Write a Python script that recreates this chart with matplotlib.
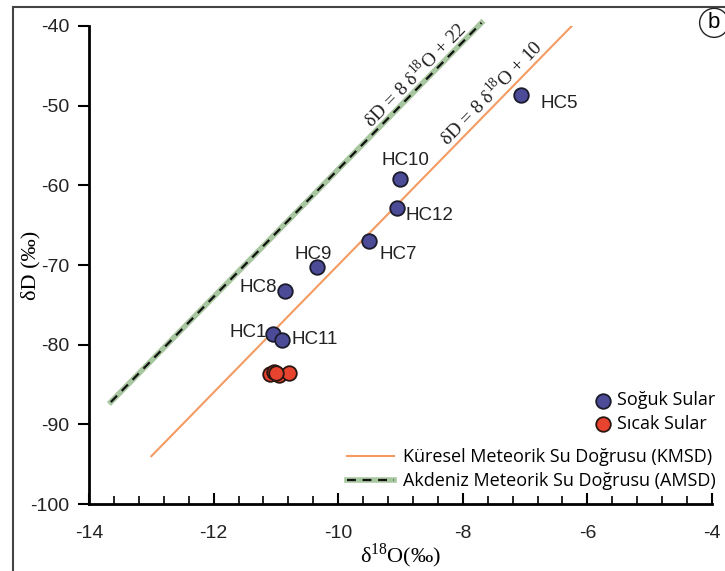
"""d18O - dD diagram of cold and thermal waters with global (KMSD) and
Mediterranean (AMSD) meteoric water lines"""
import numpy as np
import matplotlib.pyplot as plt
from matplotlib.patches import Rectangle
from matplotlib.ticker import MultipleLocator

plt.rcParams['mathtext.fontset'] = 'custom'
plt.rcParams['mathtext.rm'] = 'Liberation Serif'
plt.rcParams['axes.unicode_minus'] = False

# cold waters (Soğuk Sular)
cold_names = ['HC5', 'HC10', 'HC12', 'HC7', 'HC9', 'HC8', 'HC1', 'HC11']
cold_o18 = [-7.07, -9.00, -9.06, -9.51, -10.34, -10.85, -11.05, -10.90]
cold_dD = [-48.7, -59.2, -62.8, -67.0, -70.2, -73.3, -78.6, -79.4]

# thermal waters (Sıcak Sular)
hot_o18 = [-11.10, -11.03, -10.95, -10.79, -11.0]
hot_dD = [-83.7, -83.4, -83.8, -83.5, -83.6]

# meteoric water lines: slope, intercept, x range
kmsd = (8, 10, [-13.0, -6.25])
amsd = (8, 22, [-13.65, -7.7])

# label offsets (points) for each sample name
offsets = {'HC5': (14, -6), 'HC10': (-14, 13), 'HC12': (6, -6), 'HC7': (8, -10),
           'HC9': (-16, 9), 'HC8': (-33, 3), 'HC1': (-31, 1), 'HC11': (7, 0)}

fig = plt.figure(figsize=(7.25, 5.71), dpi=100)
ax = fig.add_axes([0.1228, 0.1173, 0.8592, 0.8372])

# lines
xk = np.array(kmsd[2])
l_o, = ax.plot(xk, kmsd[0] * xk + kmsd[1], color='#f39b62', lw=1.5, zorder=2)
xa = np.array(amsd[2])
ya = amsd[0] * xa + amsd[1]
l_g, = ax.plot(xa, ya, color='#a8c7a0', lw=4, zorder=2, clip_on=False)
l_k, = ax.plot(xa, ya, color='#111111', lw=1.6, ls=(0, (4, 3)), zorder=3, clip_on=False)

pc = ax.scatter(cold_o18, cold_dD, s=110, c='#4b4b98', edgecolors='#1b1b2b',
                linewidths=1.3, zorder=5)
ph = ax.scatter(hot_o18, hot_dD, s=110, c='#e8432f', edgecolors='#2a1510',
                linewidths=1.3, zorder=5)

for n, x, y in zip(cold_names, cold_o18, cold_dD):
    ax.annotate(n, (x, y), xytext=offsets[n], textcoords='offset points',
                fontsize=13.5, family='Liberation Sans', color='#222222', va='center')

# equations along lines
ang = np.degrees(np.arctan(8))
ax.text(-8.64, 8 * -8.64 + 22, r'δD = 8 δ$^{18}$O + 22', rotation=ang,
        transform_rotates_text=True, rotation_mode='anchor', ha='center', va='bottom',
        family='Liberation Serif', fontsize=14, color='#222222')
ax.text(-7.42, 8 * -7.42 + 10, r'δD = 8 δ$^{18}$O + 10', rotation=ang,
        transform_rotates_text=True, rotation_mode='anchor', ha='center', va='bottom',
        family='Liberation Serif', fontsize=14, color='#222222')

ax.set_xlim(-14, -4)
ax.set_ylim(-100, -40)
ax.spines['top'].set_visible(False)
ax.spines['right'].set_visible(False)
ax.spines['left'].set_linewidth(2)
ax.spines['bottom'].set_linewidth(2)
ax.xaxis.set_major_locator(MultipleLocator(2))
ax.xaxis.set_minor_locator(MultipleLocator(0.4))
ax.yaxis.set_major_locator(MultipleLocator(10))
ax.tick_params(axis='x', which='major', direction='in', length=8, width=1.5, pad=15)
ax.tick_params(axis='x', which='minor', direction='in', length=6, width=1.2)
ax.tick_params(axis='y', which='major', direction='out', length=8, width=1.5, pad=6)
for t in ax.get_xticklabels() + ax.get_yticklabels():
    t.set_family('Liberation Sans')
    t.set_fontsize(14)
    t.set_color('#222222')

ax.set_xlabel(r'δ$^{18}$O(‰)', family='Liberation Serif', fontsize=16, labelpad=0)
ax.set_ylabel('δD (‰)', family='Liberation Serif', fontsize=16)
ax.yaxis.set_label_coords(-0.078, 0.5)

# legends: points and lines
leg1 = ax.legend([pc, ph], ['Soğuk Sular', 'Sıcak Sular'], loc='lower right',
                 bbox_to_anchor=(1.02, 0.13), frameon=False, handletextpad=0.2,
                 handlelength=1.2, labelspacing=0.3, borderpad=0,
                 prop={'family': 'Open Sans', 'size': 13})
ax.add_artist(leg1)
ax.legend([l_o, (l_g, l_k)], ['Küresel Meteorik Su Doğrusu (KMSD)',
                              'Akdeniz Meteorik Su Doğrusu (AMSD)'],
          loc='lower right', bbox_to_anchor=(1.02, 0.01), frameon=False,
          handlelength=2.6, handletextpad=0.5, labelspacing=0.35, borderpad=0,
          prop={'family': 'Open Sans', 'size': 13})

# panel letter and outer frame
fig.text(0.985, 0.96, 'b', family='Liberation Sans', fontsize=16, ha='center', va='center',
         bbox=dict(boxstyle='circle,pad=0.18', fc='white', ec='#222222', lw=1))
fig.patches.append(Rectangle((13 / 725, -0.05), 1.1, 1.05 - 7 / 571, transform=fig.transFigure,
                             fill=False, ec='#444444', lw=1.5))

fig.savefig('out.png', dpi=100)
